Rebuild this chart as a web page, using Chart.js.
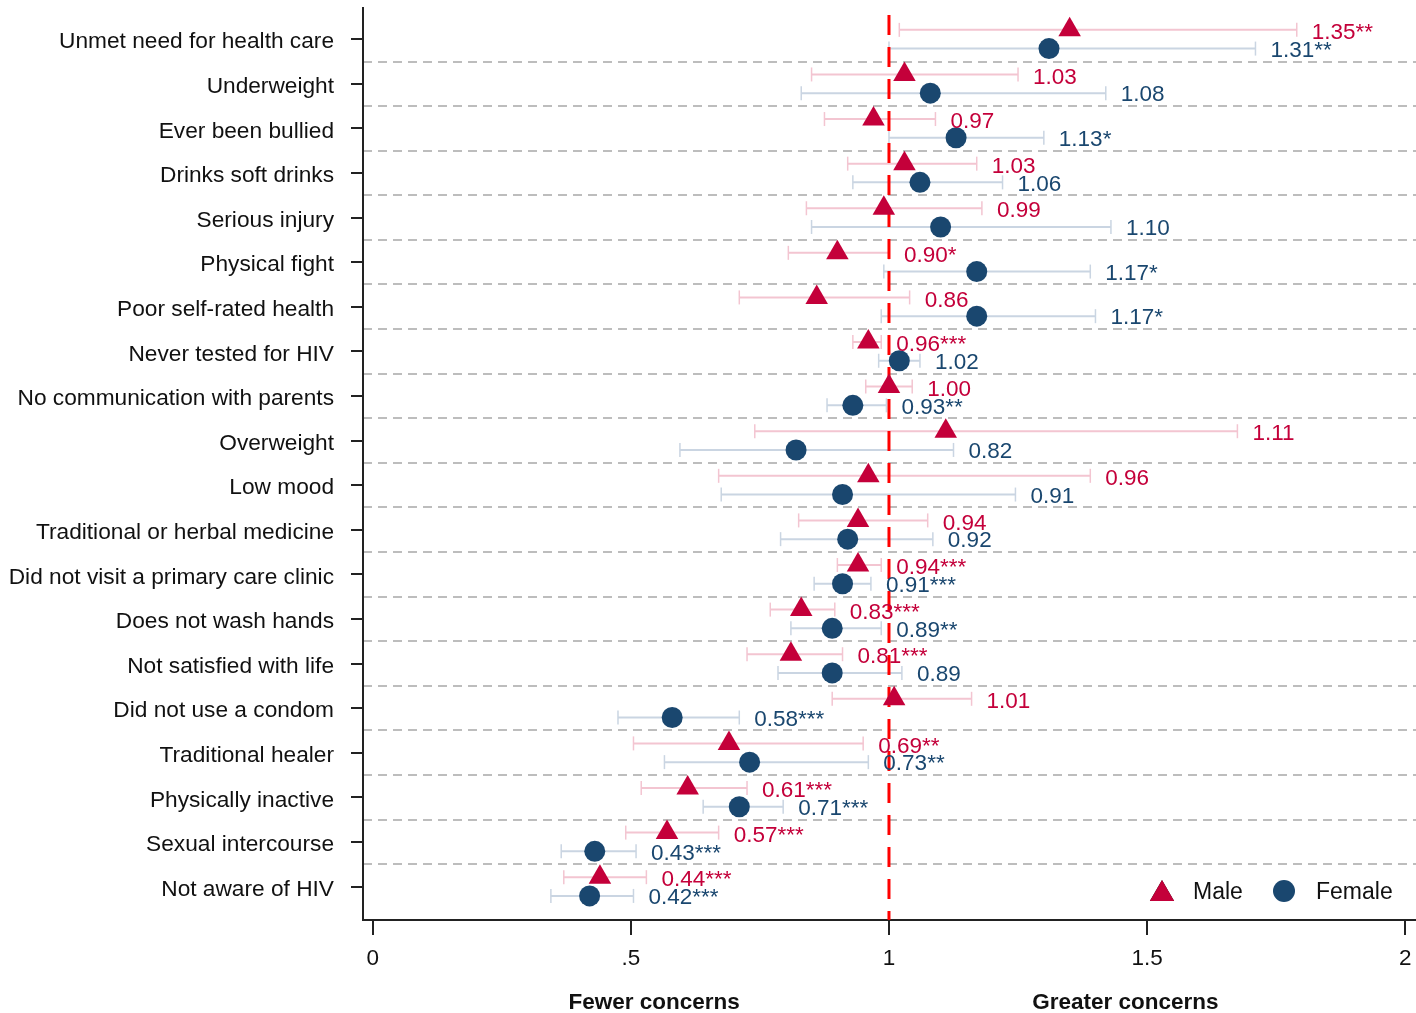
<!DOCTYPE html>
<html><head><meta charset="utf-8">
<script src="https://cdn.jsdelivr.net/npm/chart.js@4.4.1/dist/chart.umd.min.js"></script>
<style>html,body{margin:0;padding:0;background:#fff}#wrap{width:1416px;height:1013px;position:relative}</style>
</head><body><div id="wrap"><canvas id="c" width="1416" height="1013"></canvas></div>
<script>
const categories = ["Unmet need for health care","Underweight","Ever been bullied","Drinks soft drinks","Serious injury","Physical fight","Poor self-rated health","Never tested for HIV","No communication with parents","Overweight","Low mood","Traditional or herbal medicine","Did not visit a primary care clinic","Does not wash hands","Not satisfied with life","Did not use a condom","Traditional healer","Physically inactive","Sexual intercourse","Not aware of HIV"];
const maleOR   = [1.35,1.03,0.97,1.03,0.99,0.90,0.86,0.96,1.00,1.11,0.96,0.94,0.94,0.83,0.81,1.01,0.69,0.61,0.57,0.44];
const maleLow  = [1.02,0.85,0.875,0.92,0.84,0.805,0.71,0.93,0.955,0.74,0.67,0.825,0.90,0.77,0.725,0.89,0.505,0.52,0.49,0.37];
const maleHigh = [1.79,1.25,1.09,1.17,1.18,1.00,1.04,0.985,1.045,1.675,1.39,1.075,0.985,0.895,0.91,1.16,0.95,0.725,0.67,0.53];
const maleSig  = ["**","","","","","*","","***","","","","","***","***","***","","**","***","***","***"];
const femaleOR   = [1.31,1.08,1.13,1.06,1.10,1.17,1.17,1.02,0.93,0.82,0.91,0.92,0.91,0.89,0.89,0.58,0.73,0.71,0.43,0.42];
const femaleLow  = [1.00,0.83,1.00,0.93,0.85,0.99,0.985,0.98,0.88,0.595,0.675,0.79,0.855,0.81,0.785,0.475,0.565,0.64,0.365,0.345];
const femaleHigh = [1.71,1.42,1.30,1.22,1.43,1.39,1.40,1.06,0.995,1.125,1.245,1.085,0.965,0.985,1.025,0.71,0.96,0.795,0.51,0.505];
const femaleSig  = ["**","","*","","","*","*","","**","","","","***","**","","***","**","***","***","***"];
const xTicks = [0, 0.5, 1, 1.5, 2];
const xTickLabels = ["0", ".5", "1", "1.5", "2"];
const directionLabels = ["Fewer concerns", "Greater concerns"];
const directionAt = [0.545, 1.458];
const seriesNames = ["Male", "Female"];
const refValue = 1;

const FONT = "'Liberation Sans', Arial, Helvetica, sans-serif";
const MALE = "#C4003A", FEMALE = "#1A476F";
const MALE_CI = "#F3C5D1", FEMALE_CI = "#CAD5E2";
const OFF = 0.21, YMIN = -0.7, YMAX = 19.75;

function ciData(lo, hi, off) {
  const d = [];
  lo.forEach((l, i) => { d.push({x: l, y: i + off}, {x: hi[i], y: i + off}, {x: null, y: null}); });
  return d;
}
function noPad(s) { s.paddingTop = 0; s.paddingBottom = 0; s.paddingLeft = 0; s.paddingRight = 0; }

const valueLabels = {
  id: 'valueLabels',
  afterDatasetsDraw(chart) {
    const ctx = chart.ctx, xs = chart.scales.x, ys = chart.scales.y;
    ctx.save();
    ctx.font = "22.5px " + FONT;
    ctx.textAlign = 'left'; ctx.textBaseline = 'middle';
    categories.forEach((c, i) => {
      ctx.fillStyle = MALE;
      ctx.fillText(maleOR[i].toFixed(2) + maleSig[i], xs.getPixelForValue(maleHigh[i]) + 15, ys.getPixelForValue(i - OFF) + 3);
      ctx.fillStyle = FEMALE;
      ctx.fillText(femaleOR[i].toFixed(2) + femaleSig[i], xs.getPixelForValue(femaleHigh[i]) + 15, ys.getPixelForValue(i + OFF) + 2);
    });
    ctx.restore();
  }
};

const legendBox = {
  id: 'legendBox',
  afterDraw(chart) {
    const ctx = chart.ctx, a = chart.chartArea;
    const y = a.bottom - 29;
    ctx.save();
    Chart.helpers.drawPoint(ctx, {pointStyle: 'triangle', radius: 14, borderWidth: 0}, a.right - 254, y + 3);
    ctx.fillStyle = MALE; ctx.fill();
    ctx.beginPath(); ctx.arc(a.right - 132, y, 11, 0, Math.PI * 2); ctx.fillStyle = FEMALE; ctx.fill();
    ctx.font = "23px " + FONT; ctx.fillStyle = '#111'; ctx.textBaseline = 'middle'; ctx.textAlign = 'left';
    ctx.fillText(seriesNames[0], a.right - 223, y + 2);
    ctx.fillText(seriesNames[1], a.right - 100, y + 2);
    ctx.restore();
  }
};

new Chart(document.getElementById('c'), {
  type: 'scatter',
  data: {
    datasets: [
      { label: seriesNames[0], data: categories.map((c, i) => ({x: maleOR[i], y: i - OFF})),
        pointStyle: 'triangle', pointRadius: 13, pointBackgroundColor: MALE, pointBorderColor: MALE, pointBorderWidth: 0 },
      { label: seriesNames[1], data: categories.map((c, i) => ({x: femaleOR[i], y: i + OFF})),
        pointStyle: 'circle', pointRadius: 10.5, pointBackgroundColor: FEMALE, pointBorderColor: FEMALE, pointBorderWidth: 0 },
      { label: 'ref', data: [{x: refValue, y: YMIN}, {x: refValue, y: YMAX}], showLine: true, pointRadius: 0,
        borderColor: '#FF0000', borderWidth: 3, borderDash: [20, 12], borderDashOffset: 25 },
      { label: 'maleCI', data: ciData(maleLow, maleHigh, -OFF), showLine: true, spanGaps: false,
        borderColor: MALE_CI, borderWidth: 2, pointStyle: 'line', pointRotation: 90, pointRadius: 7,
        pointBorderColor: MALE_CI, pointBorderWidth: 1.5 },
      { label: 'femaleCI', data: ciData(femaleLow, femaleHigh, OFF), showLine: true, spanGaps: false,
        borderColor: FEMALE_CI, borderWidth: 2, pointStyle: 'line', pointRotation: 90, pointRadius: 7,
        pointBorderColor: FEMALE_CI, pointBorderWidth: 1.5 }
    ]
  },
  options: {
    responsive: false, animation: false, devicePixelRatio: 1,
    layout: { autoPadding: false, padding: { top: 8, right: 0, left: 0, bottom: 0 } },
    plugins: { legend: { display: false }, tooltip: { enabled: false } },
    scales: {
      x: {
        type: 'linear', position: 'bottom', min: -0.019, max: 2.021,
        afterBuildTicks: s => { s.ticks = xTicks.map(v => ({value: v})); },
        afterFit: s => { s.height = 55; noPad(s); },
        ticks: { font: { size: 22.5, family: FONT }, color: '#111', padding: 10, maxRotation: 0,
          callback: (v) => xTickLabels[xTicks.indexOf(v)] },
        grid: { drawOnChartArea: false, drawTicks: true, tickLength: 15, color: '#222', lineWidth: 2 },
        border: { display: true, color: '#222', width: 2 }
      },
      x2: {
        type: 'linear', position: 'bottom', min: -0.019, max: 2.021,
        afterBuildTicks: s => { s.ticks = directionAt.map(v => ({value: v})); },
        afterFit: s => { s.height = 38; noPad(s); },
        ticks: { font: { size: 22.5, family: FONT, weight: 'bold' }, color: '#111', padding: 14, maxRotation: 0,
          callback: (v) => directionLabels[directionAt.indexOf(v)] },
        grid: { display: false, drawTicks: false },
        border: { display: false }
      },
      y: {
        type: 'linear', position: 'left', reverse: true, min: YMIN, max: YMAX,
        afterBuildTicks: s => { s.ticks = categories.map((c, i) => ({value: i})); },
        afterFit: s => { s.width = 363; noPad(s); },
        ticks: { font: { size: 22.7, family: FONT }, color: '#111', padding: 17, autoSkip: false, labelOffset: 3,
          callback: (v) => categories[v] },
        grid: { drawOnChartArea: false, drawTicks: true, tickLength: 12, color: '#222', lineWidth: 2 },
        border: { display: true, color: '#222', width: 2 }
      },
      y2: {
        type: 'linear', position: 'right', reverse: true, min: YMIN, max: YMAX,
        afterBuildTicks: s => { s.ticks = categories.slice(1).map((c, i) => ({value: i + 0.5})); },
        afterFit: s => { s.width = 0; noPad(s); },
        ticks: { display: false },
        grid: { drawOnChartArea: true, drawTicks: false, color: '#BDBDBD', lineWidth: 2 },
        border: { display: false, dash: [9, 6] }
      }
    }
  },
  plugins: [valueLabels, legendBox]
});
</script>
</body></html>
